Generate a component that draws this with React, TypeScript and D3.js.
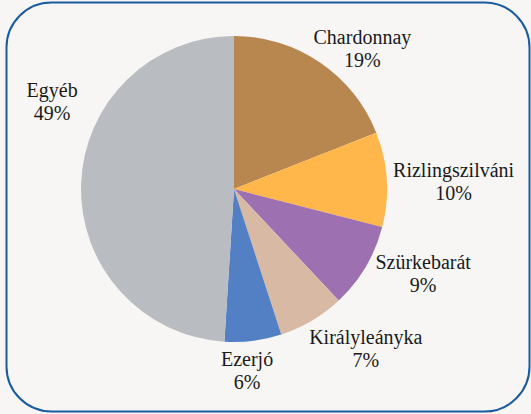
import * as d3 from "d3";

const categories = ["Chardonnay", "Rizlingszilváni", "Szürkebarát", "Királyleányka", "Ezerjó", "Egyéb"];
const shares = [19, 10, 9, 7, 6, 49];
const colors = ["#b8864f", "#ffb74c", "#9c70b1", "#d8b9a3", "#5380c4", "#b9bdc1"];
// label nudges relative to the outer centroid (Excel "best fit" placement)
const labelNudge: [number, number][] = [
  [16, 20],
  [20, 1],
  [17, -22],
  [30, -17],
  [-12, -21],
  [18, -86],
];

const W = 531;
const H = 414;
const cx = 234;
const cy = 189;
const r = 153;
const labelR = 200;
const serif = { fontFamily: "Liberation Serif", fontSize: "20px" };

export default function App() {
  const pie = d3.pie<number>().sort(null).value(d => d);
  const arcs = pie(shares);
  const arc = d3.arc<d3.PieArcDatum<number>>().innerRadius(0).outerRadius(r);
  const labelArc = d3.arc<d3.PieArcDatum<number>>().innerRadius(labelR).outerRadius(labelR);

  return (
    <svg width={W} height={H} style={{ position: "absolute", left: 0, top: 0, background: "#f7f6f4", ...serif }}>
      <rect x={6.5} y={2.5} width={523} height={409} rx={45} ry={45} fill="#f7f6f4" stroke="#1a5c9e" strokeWidth={2} />
      <g transform={`translate(${cx},${cy})`}>
        {arcs.map((a, i) => (
          <path key={categories[i]} d={arc(a) ?? ""} fill={colors[i]} />
        ))}
        {arcs.map((a, i) => {
          const [x, y] = labelArc.centroid(a);
          const lx = x + labelNudge[i][0];
          const ly = y + labelNudge[i][1];
          return (
            <g key={"l" + i}>
              <text x={lx} y={ly} textAnchor="middle" style={serif} fill="#1a1a1a">
                {categories[i]}
              </text>
              <text x={lx} y={ly + 23} textAnchor="middle" style={serif} fill="#1a1a1a">
                {`${shares[i]}%`}
              </text>
            </g>
          );
        })}
      </g>
    </svg>
  );
}
